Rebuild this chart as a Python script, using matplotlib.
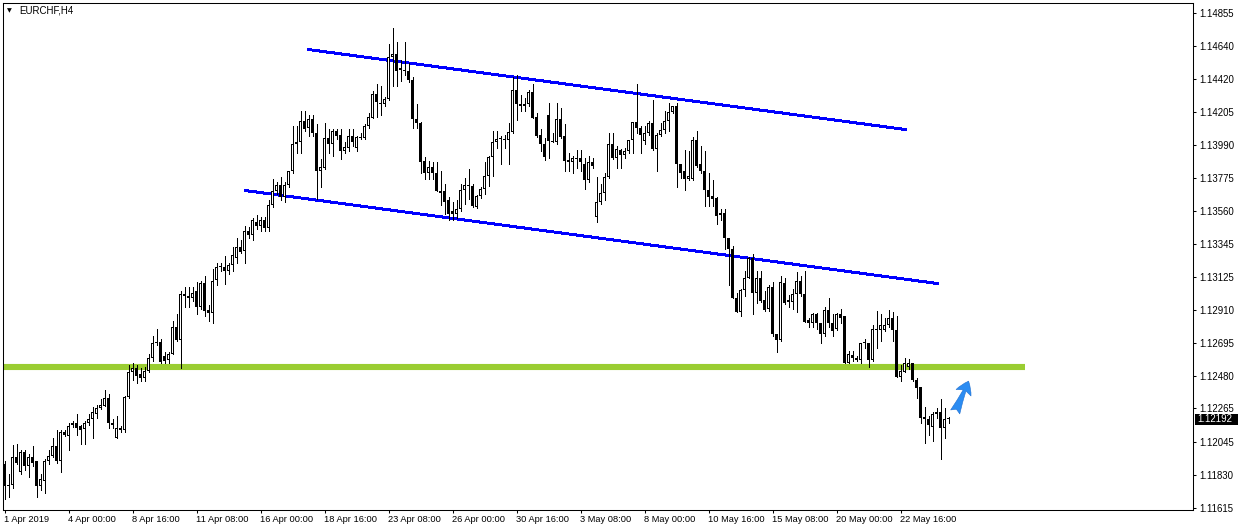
import matplotlib

matplotlib.use("Agg")
import matplotlib.pyplot as plt
import matplotlib.transforms as mtransforms
import numpy as np
from matplotlib.patches import Rectangle

SYMBOL = "EURCHF,H4"

# H4 candles, first bar = 1 Apr 2019 08:00
opens = [
    1.11903, 1.11759, 1.11766, 1.11949, 1.11845, 1.11982, 1.11890, 1.11949, 1.11917, 1.11753,
    1.11792, 1.11923, 1.11956, 1.12021, 1.11917, 1.12113, 1.12087, 1.12159, 1.12166, 1.12152,
    1.12133, 1.12166, 1.12192, 1.12231, 1.12270, 1.12283, 1.12336, 1.12172, 1.12074, 1.12139,
    1.12120, 1.12342, 1.12500, 1.12532, 1.12493, 1.12467, 1.12513, 1.12598, 1.12690, 1.12703,
    1.12605, 1.12585, 1.12624, 1.12801, 1.12716, 1.13017, 1.12998, 1.12991, 1.13037, 1.12926,
    1.13089, 1.12912, 1.12893, 1.13109, 1.13188, 1.13194, 1.13168, 1.13207, 1.13247, 1.13319,
    1.13299, 1.13430, 1.13404, 1.13489, 1.13463, 1.13496, 1.13450, 1.13600, 1.13686, 1.13731,
    1.13653, 1.13731, 1.13817, 1.13994, 1.14007, 1.14151, 1.14105, 1.14164, 1.14066, 1.13817,
    1.13843, 1.14039, 1.14000, 1.14085, 1.14059, 1.13954, 1.13974, 1.14052, 1.13974, 1.14039,
    1.14039, 1.14118, 1.14170, 1.14328, 1.14262, 1.14256, 1.14295, 1.14570, 1.14590, 1.14492,
    1.14485, 1.14478, 1.14419, 1.14164, 1.14138, 1.13889, 1.13804, 1.13849, 1.13810, 1.13692,
    1.13686, 1.13627, 1.13561, 1.13541, 1.13574, 1.13699, 1.13731, 1.13725, 1.13587, 1.13659,
    1.13705, 1.13790, 1.13915, 1.14007, 1.14033, 1.14026, 1.14026, 1.14079, 1.14354, 1.14256,
    1.14249, 1.14256, 1.14341, 1.14177, 1.14059, 1.14000, 1.14184, 1.14020, 1.14007, 1.14164,
    1.14052, 1.13895, 1.13876, 1.13908, 1.13908, 1.13863, 1.13764, 1.13876, 1.13522, 1.13614,
    1.13679, 1.13784, 1.14000, 1.13908, 1.13961, 1.13928, 1.13954, 1.14026, 1.14144, 1.14105,
    1.14020, 1.14066, 1.14138, 1.13967, 1.14059, 1.14092, 1.14151, 1.14210, 1.14249, 1.13869,
    1.13817, 1.13771, 1.13771, 1.14026, 1.13863, 1.13823, 1.13699, 1.13659, 1.13646, 1.13535,
    1.13548, 1.13378, 1.13312, 1.12991, 1.12899, 1.13043, 1.13122, 1.13247, 1.13024, 1.13116,
    1.12978, 1.12919, 1.13063, 1.12755, 1.12716, 1.13089, 1.12978, 1.12965, 1.13017, 1.13102,
    1.13017, 1.12847, 1.12827, 1.12880, 1.12821, 1.12749, 1.12912, 1.12821, 1.12788, 1.12886,
    1.12867, 1.12565, 1.12617, 1.12598, 1.12585, 1.12696, 1.12690, 1.12585, 1.12788, 1.12781,
    1.12781, 1.12808, 1.12860, 1.12781, 1.12473, 1.12506, 1.12539, 1.12559, 1.12454, 1.12408,
    1.12211, 1.12198, 1.12146, 1.12231, 1.12238, 1.12139, 1.12195,
]
highs = [
    1.11917, 1.11838, 1.12028, 1.12034, 1.11989, 1.11989, 1.11969, 1.12021, 1.11923, 1.11838,
    1.11930, 1.11989, 1.12074, 1.12120, 1.12120, 1.12120, 1.12166, 1.12185, 1.12231, 1.12159,
    1.12185, 1.12231, 1.12277, 1.12290, 1.12329, 1.12388, 1.12362, 1.12198, 1.12218, 1.12152,
    1.12349, 1.12552, 1.12559, 1.12546, 1.12532, 1.12539, 1.12624, 1.12736, 1.12788, 1.12722,
    1.12631, 1.12631, 1.12840, 1.12880, 1.13037, 1.13057, 1.13057, 1.13057, 1.13096, 1.13102,
    1.13135, 1.12945, 1.13175, 1.13220, 1.13220, 1.13266, 1.13220, 1.13325, 1.13378, 1.13365,
    1.13463, 1.13456, 1.13515, 1.13535, 1.13522, 1.13522, 1.13627, 1.13771, 1.13745, 1.13784,
    1.13745, 1.13823, 1.14112, 1.14118, 1.14216, 1.14216, 1.14190, 1.14190, 1.14125, 1.13902,
    1.14138, 1.14098, 1.14098, 1.14098, 1.14098, 1.14007, 1.14098, 1.14098, 1.14052, 1.14072,
    1.14125, 1.14197, 1.14347, 1.14387, 1.14374, 1.14308, 1.14655, 1.14760, 1.14668, 1.14550,
    1.14668, 1.14531, 1.14433, 1.14262, 1.14144, 1.13915, 1.13889, 1.13882, 1.13876, 1.13823,
    1.13738, 1.13653, 1.13614, 1.13627, 1.13738, 1.13777, 1.13836, 1.13738, 1.13666, 1.13718,
    1.13876, 1.13921, 1.14085, 1.14085, 1.14052, 1.14059, 1.14138, 1.14439, 1.14446, 1.14321,
    1.14301, 1.14354, 1.14393, 1.14203, 1.14098, 1.14039, 1.14269, 1.14066, 1.14269, 1.14236,
    1.14131, 1.13935, 1.13921, 1.13961, 1.13961, 1.13908, 1.13921, 1.13908, 1.13784, 1.13738,
    1.13810, 1.14072, 1.14072, 1.13987, 1.13967, 1.13974, 1.14026, 1.14144, 1.14387, 1.14118,
    1.14118, 1.14151, 1.14288, 1.14072, 1.14138, 1.14216, 1.14269, 1.14249, 1.14269, 1.13869,
    1.13961, 1.13948, 1.14046, 1.14085, 1.13987, 1.13948, 1.13810, 1.13758, 1.13653, 1.13574,
    1.13574, 1.13384, 1.13332, 1.13024, 1.13050, 1.13168, 1.13260, 1.13279, 1.13168, 1.13168,
    1.13037, 1.13070, 1.13096, 1.12755, 1.13129, 1.13116, 1.13011, 1.13050, 1.13161, 1.13129,
    1.13168, 1.12854, 1.12893, 1.12893, 1.12827, 1.12926, 1.12985, 1.12886, 1.12893, 1.12919,
    1.12867, 1.12644, 1.12644, 1.12605, 1.12696, 1.12722, 1.12690, 1.12808, 1.12906, 1.12886,
    1.12860, 1.12912, 1.12899, 1.12867, 1.12546, 1.12598, 1.12591, 1.12559, 1.12467, 1.12408,
    1.12277, 1.12218, 1.12238, 1.12270, 1.12329, 1.12270, 1.12211,
]
lows = [
    1.11674, 1.11681, 1.11740, 1.11903, 1.11838, 1.11864, 1.11812, 1.11890, 1.11681, 1.11733,
    1.11713, 1.11903, 1.11949, 1.11910, 1.11845, 1.12087, 1.11989, 1.12146, 1.12093, 1.12034,
    1.12034, 1.12159, 1.12074, 1.12205, 1.12264, 1.12283, 1.12139, 1.12139, 1.12074, 1.12107,
    1.12107, 1.12336, 1.12454, 1.12434, 1.12447, 1.12447, 1.12500, 1.12578, 1.12677, 1.12565,
    1.12559, 1.12565, 1.12624, 1.12709, 1.12532, 1.12926, 1.12926, 1.12971, 1.12886, 1.12919,
    1.12867, 1.12840, 1.12827, 1.13070, 1.13168, 1.13083, 1.13148, 1.13168, 1.13220, 1.13286,
    1.13220, 1.13384, 1.13365, 1.13437, 1.13430, 1.13430, 1.13430, 1.13587, 1.13672, 1.13627,
    1.13614, 1.13718, 1.13810, 1.13941, 1.13941, 1.14085, 1.14052, 1.14052, 1.13640, 1.13718,
    1.13836, 1.13941, 1.13921, 1.14033, 1.13902, 1.13941, 1.13954, 1.13987, 1.13954, 1.14033,
    1.14033, 1.14105, 1.14170, 1.14177, 1.14184, 1.14249, 1.14288, 1.14380, 1.14374, 1.14413,
    1.14452, 1.14406, 1.14105, 1.14105, 1.13804, 1.13771, 1.13771, 1.13771, 1.13686, 1.13600,
    1.13541, 1.13496, 1.13496, 1.13509, 1.13561, 1.13607, 1.13640, 1.13587, 1.13581, 1.13646,
    1.13672, 1.13725, 1.13790, 1.13974, 1.13869, 1.13974, 1.13869, 1.14072, 1.14157, 1.14216,
    1.14216, 1.14243, 1.14170, 1.14046, 1.13954, 1.13895, 1.13908, 1.14007, 1.14000, 1.14039,
    1.13823, 1.13823, 1.13810, 1.13843, 1.13823, 1.13705, 1.13751, 1.13843, 1.13489, 1.13607,
    1.13633, 1.13777, 1.13902, 1.13843, 1.13843, 1.13908, 1.13941, 1.13941, 1.14072, 1.13941,
    1.14000, 1.14059, 1.13961, 1.13817, 1.14052, 1.14072, 1.14085, 1.14197, 1.13718, 1.13777,
    1.13699, 1.13758, 1.13758, 1.13849, 1.13810, 1.13594, 1.13594, 1.13594, 1.13476, 1.13502,
    1.13312, 1.13076, 1.12985, 1.12899, 1.12867, 1.13004, 1.13116, 1.12886, 1.12958, 1.12965,
    1.12906, 1.12906, 1.12742, 1.12631, 1.12709, 1.12951, 1.12926, 1.12919, 1.12899, 1.13004,
    1.12834, 1.12801, 1.12795, 1.12788, 1.12690, 1.12742, 1.12795, 1.12742, 1.12781, 1.12821,
    1.12559, 1.12559, 1.12578, 1.12578, 1.12559, 1.12663, 1.12539, 1.12578, 1.12663, 1.12709,
    1.12775, 1.12795, 1.12709, 1.12473, 1.12441, 1.12500, 1.12526, 1.12447, 1.12336, 1.12166,
    1.12041, 1.12093, 1.12054, 1.12205, 1.11936, 1.12074, 1.12166,
]
closes = [
    1.11759, 1.11766, 1.11949, 1.11910, 1.11982, 1.11890, 1.11949, 1.11910, 1.11753, 1.11799,
    1.11923, 1.11956, 1.12021, 1.11917, 1.12113, 1.12093, 1.12152, 1.12172, 1.12139, 1.12120,
    1.12166, 1.12192, 1.12238, 1.12270, 1.12290, 1.12336, 1.12166, 1.12159, 1.12139, 1.12120,
    1.12342, 1.12506, 1.12532, 1.12480, 1.12467, 1.12513, 1.12598, 1.12690, 1.12703, 1.12572,
    1.12578, 1.12624, 1.12801, 1.12716, 1.13017, 1.12998, 1.12991, 1.13024, 1.12926, 1.13089,
    1.12906, 1.12893, 1.13102, 1.13188, 1.13194, 1.13168, 1.13207, 1.13273, 1.13319, 1.13292,
    1.13430, 1.13404, 1.13496, 1.13463, 1.13496, 1.13450, 1.13600, 1.13686, 1.13731, 1.13653,
    1.13731, 1.13817, 1.14000, 1.14007, 1.14151, 1.14098, 1.14164, 1.14066, 1.13817, 1.13849,
    1.14039, 1.14000, 1.14085, 1.14052, 1.13954, 1.13980, 1.14052, 1.14007, 1.14046, 1.14046,
    1.14118, 1.14177, 1.14328, 1.14275, 1.14256, 1.14295, 1.14570, 1.14590, 1.14478, 1.14485,
    1.14478, 1.14419, 1.14164, 1.14138, 1.13882, 1.13804, 1.13849, 1.13804, 1.13692, 1.13679,
    1.13620, 1.13541, 1.13541, 1.13574, 1.13699, 1.13731, 1.13725, 1.13594, 1.13659, 1.13705,
    1.13790, 1.13915, 1.14007, 1.14033, 1.14033, 1.14033, 1.14079, 1.14354, 1.14256, 1.14249,
    1.14256, 1.14341, 1.14170, 1.14052, 1.13994, 1.13915, 1.14020, 1.14007, 1.14164, 1.14046,
    1.13889, 1.13876, 1.13908, 1.13902, 1.13876, 1.13764, 1.13876, 1.13856, 1.13614, 1.13679,
    1.13784, 1.14000, 1.13908, 1.13967, 1.13928, 1.13954, 1.14026, 1.14144, 1.14105, 1.14059,
    1.14072, 1.14138, 1.13967, 1.14059, 1.14092, 1.14151, 1.14210, 1.14243, 1.13869, 1.13810,
    1.13771, 1.13790, 1.14026, 1.13856, 1.13817, 1.13699, 1.13653, 1.13640, 1.13528, 1.13548,
    1.13378, 1.13312, 1.12985, 1.12899, 1.13043, 1.13122, 1.13247, 1.13024, 1.13122, 1.12971,
    1.12912, 1.13063, 1.12749, 1.12716, 1.13096, 1.12958, 1.12965, 1.13017, 1.13102, 1.13017,
    1.12834, 1.12821, 1.12880, 1.12821, 1.12749, 1.12912, 1.12821, 1.12775, 1.12886, 1.12860,
    1.12565, 1.12624, 1.12598, 1.12585, 1.12696, 1.12690, 1.12585, 1.12788, 1.12781, 1.12808,
    1.12808, 1.12860, 1.12781, 1.12473, 1.12513, 1.12559, 1.12559, 1.12454, 1.12401, 1.12205,
    1.12198, 1.12159, 1.12231, 1.12238, 1.12139, 1.12192, 1.12192,
]

date_labels = [
    "1 Apr 2019", "4 Apr 00:00", "8 Apr 16:00", "11 Apr 08:00", "16 Apr 00:00",
    "18 Apr 16:00", "23 Apr 08:00", "26 Apr 00:00", "30 Apr 16:00", "3 May 08:00",
    "8 May 00:00", "10 May 16:00", "15 May 08:00", "20 May 00:00", "22 May 16:00",
]
bars_per_label = 16

price_ticks = [
    1.14855, 1.14640, 1.14420, 1.14205, 1.13990, 1.13775, 1.13560, 1.13345,
    1.13125, 1.12910, 1.12695, 1.12480, 1.12265, 1.12045, 1.11830, 1.11615,
]

# drawn objects: (bar index, price)
upper_channel_x = [76, 225.25]
upper_channel_y = [1.14616, 1.14092]
lower_channel_x = [60.25, 233.25]
lower_channel_y = [1.13692, 1.13083]
support_level = 1.12539
support_end = 255
arrow_tail = (237.4, 1.12225)
arrow_tip = (241.3, 1.12460)


def plot_chart():
    W, H = 1239, 531
    fig = plt.figure(figsize=(W / 100, H / 100), dpi=100)
    ax = fig.add_axes([3 / W, 21 / H, 1190 / W, 507 / H])

    # 4 px per bar, bar centres on pixel centres
    xmin = -0.375
    xmax = xmin + 1190 / 4
    ymin, ymax = 1.11599, 1.14921
    px_y = (ymax - ymin) / 507  # price per pixel

    x = np.arange(len(closes))
    o = np.array(opens)
    c = np.array(closes)
    bull = c >= o
    top = np.maximum(o, c)
    bottom = np.minimum(o, c)
    height = np.maximum(top - bottom, px_y)

    # objects behind candles
    ax.hlines(support_level, xmin, support_end, color="#9acd32", linewidth=4.4, zorder=1)
    ax.plot(upper_channel_x, upper_channel_y, color="#0000ff", linewidth=1.4,
            antialiased=False, zorder=2)
    ax.plot(lower_channel_x, lower_channel_y, color="#0000ff", linewidth=1.4,
            antialiased=False, zorder=2)

    # candles
    ax.vlines(x, lows, highs, color="black", linewidth=0.72, zorder=3, antialiased=False)
    ax.bar(x, height, bottom=bottom, width=0.75, color="black", linewidth=0,
           zorder=4, antialiased=False)
    hollow = bull & (top - bottom > 2.5 * px_y)
    ax.bar(x[hollow], (top - bottom)[hollow] - 2 * px_y, bottom=bottom[hollow] + px_y,
           width=0.25, color="white", linewidth=0, zorder=5, antialiased=False)

    ax.annotate("", xy=arrow_tip, xytext=arrow_tail,
                arrowprops=dict(arrowstyle="fancy,head_length=0.7,head_width=0.9,tail_width=0.55",
                                fc="#2b8cf2", ec="#1f6fd0", lw=0.4, mutation_scale=13),
                zorder=6)

    ax.set_xlim(xmin, xmax)
    ax.set_ylim(ymin, ymax)

    tick_pos = [i * bars_per_label for i in range(len(date_labels))]
    ax.set_xticks(tick_pos)
    ax.set_xticklabels(date_labels, ha="left")
    ax.yaxis.tick_right()
    ax.set_yticks(price_ticks)
    ax.set_yticklabels([f"{v:.5f}" for v in price_ticks])
    ax.tick_params(axis="x", direction="out", length=2.2, width=0.75, pad=1.5, labelsize=6.7)
    ax.tick_params(axis="y", direction="out", length=2.2, width=0.75, pad=2.0, labelsize=6.9)
    for s in ax.spines.values():
        s.set_linewidth(0.75)
        s.set_color("black")

    # last price marker
    trans = mtransforms.blended_transform_factory(ax.transAxes, ax.transData)
    last = closes[-1]
    ax.add_patch(Rectangle((1.0017, last - 5.8 * px_y), 0.0362, 11.6 * px_y, transform=trans,
                           facecolor="black", edgecolor="none", clip_on=False, zorder=7))
    ax.text(1.0036, last, f"{last:.5f}", transform=trans, color="white", fontsize=6.9,
            va="center", ha="left", zorder=8, clip_on=False)

    fig.text(7 / W, 1 - 10.5 / H, "\u25bc", fontsize=4.5, family="DejaVu Sans",
             va="center", ha="left")
    fig.text(19.5 / W, 1 - 10.8 / H, SYMBOL, fontsize=7, va="center", ha="left")

    fig.savefig("out.png", dpi=100)


if __name__ == "__main__":
    plt.rcParams["font.family"] = ["Liberation Sans", "DejaVu Sans"]
    plot_chart()
